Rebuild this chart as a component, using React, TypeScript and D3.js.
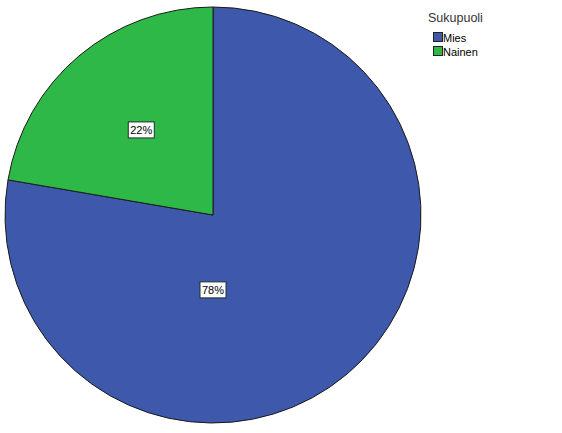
import React, { useEffect, useRef } from 'react';
import * as d3 from 'd3';

const categories = ['Mies', 'Nainen'];
const percentages = [77.7, 22.3];
const percentLabels = ['78%', '22%'];
const colors = ['#3E58AC', '#2EB848'];
const legendTitle = 'Sukupuoli';

const App: React.FC = () => {
  const svgRef = useRef<SVGSVGElement>(null);
  const width = 562;
  const height = 433;

  useEffect(() => {
    if (!svgRef.current) return;
    const svg = d3.select(svgRef.current);
    svg.selectAll('*').remove();

    const cx = 213;
    const cy = 215;
    const radius = 208;

    const data = categories.map((c, i) => ({ category: c, value: percentages[i], label: percentLabels[i], color: colors[i] }));

    const pie = d3.pie<typeof data[number]>()
      .value(d => d.value)
      .sort(null)
      .startAngle(0)
      .endAngle(2 * Math.PI);

    const arc = d3.arc<d3.PieArcDatum<typeof data[number]>>()
      .innerRadius(0)
      .outerRadius(radius);

    const g = svg.append('g').attr('transform', `translate(${cx}, ${cy})`);
    const arcs = pie(data);

    g.selectAll('path.slice')
      .data(arcs)
      .enter()
      .append('path')
      .attr('class', 'slice')
      .attr('d', arc)
      .attr('fill', d => d.data.color)
      .attr('stroke', '#1a1a1a')
      .attr('stroke-width', 1);

    // label placement: small slice at mid angle, big slice straight down
    const labelPos = (d: d3.PieArcDatum<typeof data[number]>) => {
      if (d.endAngle - d.startAngle > Math.PI) {
        return [0, radius * 0.36];
      }
      const a = (d.startAngle + d.endAngle) / 2;
      const r = radius * 0.535;
      return [Math.sin(a) * r, -Math.cos(a) * r];
    };

    const labels = g.selectAll('g.lbl')
      .data(arcs)
      .enter()
      .append('g')
      .attr('class', 'lbl')
      .attr('transform', d => {
        const [x, y] = labelPos(d);
        return `translate(${x}, ${y})`;
      });

    labels.append('rect')
      .attr('x', -13)
      .attr('y', -8)
      .attr('width', 26)
      .attr('height', 16)
      .attr('fill', '#ffffff')
      .attr('stroke', '#1f2f2f')
      .attr('stroke-width', 1);

    labels.append('text')
      .attr('text-anchor', 'middle')
      .attr('dy', '0.36em')
      .style('font-family', 'Arial, "Liberation Sans", sans-serif')
      .style('font-size', '11px')
      .style('fill', '#000')
      .text(d => d.data.label);

    // legend
    const legend = svg.append('g').attr('transform', 'translate(428, 0)');
    legend.append('text')
      .attr('x', 0)
      .attr('y', 22)
      .style('font-family', 'Arial, "Liberation Sans", sans-serif')
      .style('font-size', '12.5px')
      .style('fill', '#333')
      .text(legendTitle);

    const items = legend.selectAll('g.item')
      .data(data)
      .enter()
      .append('g')
      .attr('class', 'item')
      .attr('transform', (_, i) => `translate(5, ${32 + i * 14})`);

    items.append('rect')
      .attr('x', 0.5)
      .attr('y', 0.5)
      .attr('width', 9)
      .attr('height', 9)
      .attr('fill', d => d.color)
      .attr('stroke', '#222')
      .attr('stroke-width', 1);

    items.append('text')
      .attr('x', 10)
      .attr('y', 9.5)
      .style('font-family', 'Arial, "Liberation Sans", sans-serif')
      .style('font-size', '11px')
      .style('fill', '#000')
      .text(d => d.category);
  }, []);

  return (
    <svg
      ref={svgRef}
      width={width}
      height={height}
      style={{ position: 'absolute', left: 0, top: 0, background: '#fff' }}
    />
  );
};

export default App;
